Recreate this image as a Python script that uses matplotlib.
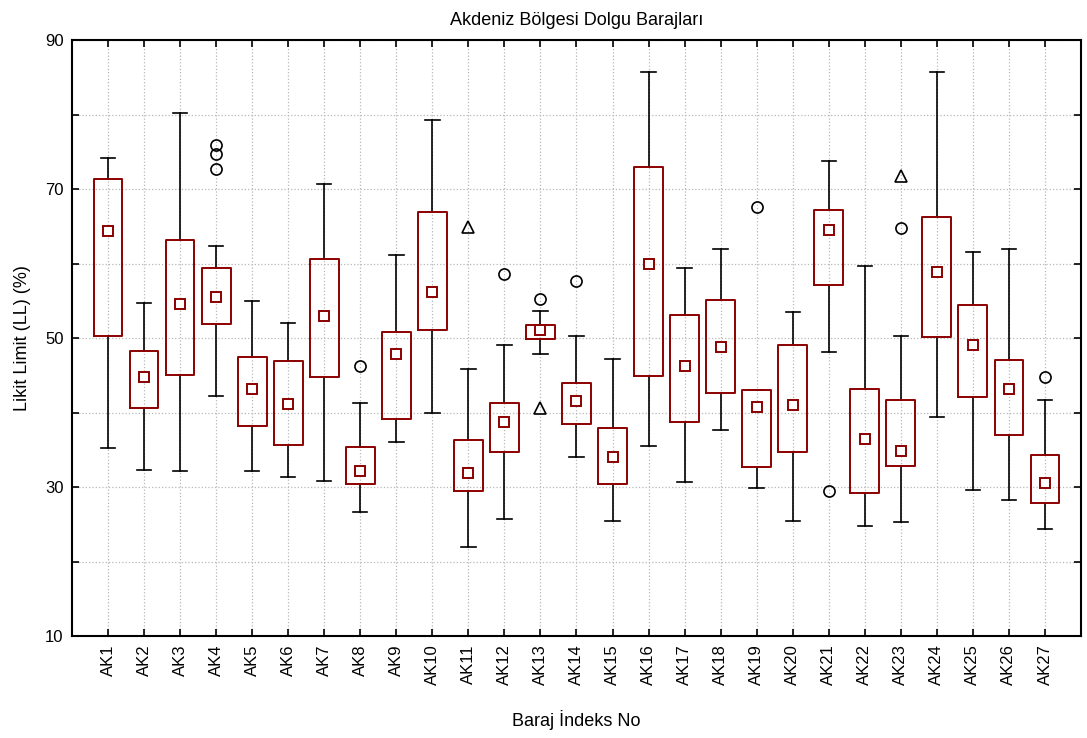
import matplotlib
matplotlib.use('Agg')
from matplotlib import pyplot as plt

plt.rcParams['font.family'] = ['Liberation Sans', 'DejaVu Sans']

names = [f'AK{i}' for i in range(1, 28)]

whis_low = [35.2, 32.3, 32.1, 42.2, 32.1, 31.4, 30.8, 26.6, 36.0, 40.0,
            21.9, 25.7, 47.9, 34.0, 25.5, 35.5, 30.7, 37.6, 29.9, 25.5,
            48.1, 24.8, 25.3, 39.4, 29.6, 28.2, 24.3]
q1 = [50.3, 40.6, 45.0, 51.9, 38.2, 35.6, 44.7, 30.4, 39.1, 51.1,
      29.5, 34.7, 49.9, 38.4, 30.4, 44.9, 38.7, 42.6, 32.7, 34.7,
      57.1, 29.2, 32.8, 50.2, 42.1, 37.0, 27.9]
mid = [64.3, 44.8, 54.6, 55.5, 43.1, 41.1, 53.0, 32.2, 47.8, 56.2,
       31.9, 38.7, 51.1, 41.6, 34.0, 60.0, 46.3, 48.8, 40.8, 41.0,
       64.5, 36.4, 34.8, 58.8, 49.1, 43.1, 30.6]
q3 = [71.3, 48.2, 63.1, 59.4, 47.5, 46.9, 60.6, 35.4, 50.8, 66.9,
      36.3, 41.3, 51.8, 44.0, 37.9, 73.0, 53.1, 55.1, 43.0, 49.1,
      67.2, 43.2, 41.7, 66.3, 54.4, 47.0, 34.3]
whis_high = [74.2, 54.7, 80.2, 62.3, 54.9, 52.0, 70.7, 41.3, 61.1, 79.2,
             45.9, 49.1, 53.6, 50.3, 47.2, 85.7, 59.4, 61.95, 43.0, 53.5,
             73.7, 59.6, 50.3, 85.7, 61.6, 61.95, 41.7]

# outliers (circles) and extremes (triangles), keyed by box index
outliers = {3: [72.7, 74.7, 75.9], 7: [46.3], 11: [58.55], 12: [55.2],
            13: [57.6], 18: [67.6], 20: [29.4], 22: [64.7], 26: [44.8]}
extremes = {10: [64.9], 12: [40.6], 22: [71.7]}

red = '#8c0000'

stats = []
for i in range(len(names)):
    stats.append({'label': names[i], 'whislo': whis_low[i], 'q1': q1[i],
                  'med': mid[i], 'mean': mid[i], 'q3': q3[i],
                  'whishi': whis_high[i], 'fliers': outliers.get(i, [])})

fig = plt.figure(figsize=(10.87, 7.38), dpi=100)
ax = fig.add_axes([0.0662, 0.1382, 0.9283, 0.8076])

ax.bxp(stats, positions=range(1, 28), widths=0.8, showmeans=True,
       boxprops=dict(color=red, linewidth=1.4, zorder=3),
       whiskerprops=dict(color='black', linewidth=1.2, zorder=2),
       capprops=dict(color='black', linewidth=1.2, zorder=2),
       medianprops=dict(visible=False),
       meanprops=dict(marker='s', markersize=7, markerfacecolor='white',
                      markeredgecolor=red, markeredgewidth=1.4, zorder=4),
       flierprops=dict(marker='o', markersize=8, markerfacecolor='none',
                       markeredgecolor='black', markeredgewidth=1.2))

for i, vals in extremes.items():
    ax.plot([i + 1] * len(vals), vals, linestyle='none', marker='^',
            markersize=8, markerfacecolor='none', markeredgecolor='black',
            markeredgewidth=1.2)

ax.set_xlim(0, 28)
ax.set_ylim(10, 90)
ax.set_yticks(range(10, 91, 10))
ax.set_yticklabels([str(v) if v % 20 == 10 else '' for v in range(10, 91, 10)])
ax.set_xticks(range(1, 28))
ax.set_xticklabels(names, rotation=90)
ax.tick_params(direction='in', top=True, right=True, length=5, width=1.2,
               labelsize=12, pad=6)
ax.grid(True, linestyle=':', color='#b8b8b8', linewidth=0.9)
for s in ax.spines.values():
    s.set_linewidth(1.5)

ax.set_title('Akdeniz Bölgesi Dolgu Barajları', fontsize=13, pad=11)
ax.set_xlabel('Baraj İndeks No', fontsize=13, labelpad=18)
ax.set_ylabel('Likit Limit (LL) (%)', fontsize=13, labelpad=10)

fig.savefig('out.png', dpi=100)
